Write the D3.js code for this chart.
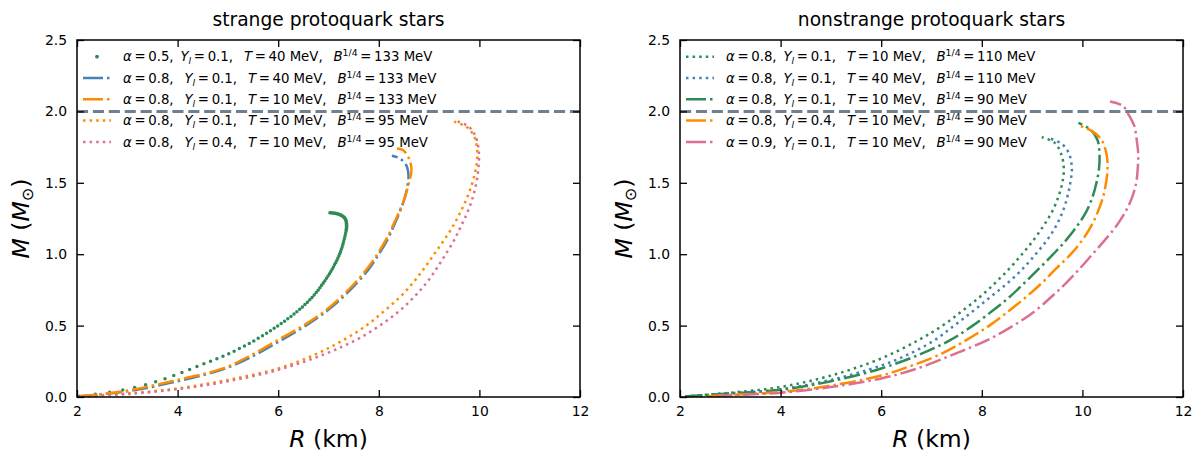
<!DOCTYPE html>
<html>
<head>
<meta charset="utf-8">
<title>protoquark stars</title>
<style>
    body { margin: 0; background: #fff; }
    text { font-family: "DejaVu Sans", sans-serif; fill: #000; }
    .frame { fill: none; stroke: #000; stroke-width: 1.5px; }
    .axis path { display: none; }
    .axis line { stroke: #000; stroke-width: 1.3px; }
    .axis text { font-size: 13.9px; }
    .curve { fill: none; }
</style>
</head>
<body>
<script src="https://cdn.jsdelivr.net/npm/d3@7"></script>
<script>

// ---- data (R in km, M in solar masses) ----
var xTicks = [2, 4, 6, 8, 10, 12];
var yTicks = [0.0, 0.5, 1.0, 1.5, 2.0, 2.5];
var panelTitles = ["strange protoquark stars", "nonstrange protoquark stars"];
var maxMassLine = 2.0;

// strange stars
var strangeR1 = [2.05, 2.5, 3.0, 3.5, 4.0, 4.5, 5.0, 5.55, 6.0, 6.38, 6.68, 6.9, 7.08, 7.22, 7.31, 7.36, 7.33, 7.2, 7.03];
var strangeM1 = [0.005, 0.025, 0.055, 0.10, 0.16, 0.23, 0.30, 0.40, 0.50, 0.60, 0.70, 0.80, 0.90, 1.00, 1.10, 1.20, 1.25, 1.28, 1.29];
var strangeR2 = [2.05, 3.0, 4.0, 4.95, 5.57, 6.07, 6.55, 6.96, 7.29, 7.57, 7.81, 8.0, 8.17, 8.3, 8.42, 8.52, 8.59, 8.55, 8.42, 8.26];
var strangeM2 = [0.005, 0.04, 0.11, 0.20, 0.30, 0.40, 0.50, 0.60, 0.70, 0.80, 0.90, 1.00, 1.10, 1.20, 1.30, 1.40, 1.54, 1.62, 1.67, 1.69];
var strangeR3 = [2.05, 3.0, 4.0, 4.9, 5.5, 6.0, 6.5, 6.92, 7.25, 7.53, 7.77, 7.97, 8.14, 8.28, 8.41, 8.52, 8.6, 8.65, 8.6, 8.48, 8.36];
var strangeM3 = [0.005, 0.045, 0.12, 0.20, 0.30, 0.40, 0.50, 0.60, 0.70, 0.80, 0.90, 1.00, 1.10, 1.20, 1.30, 1.40, 1.50, 1.59, 1.67, 1.73, 1.74];
var strangeR4 = [2.1, 3.0, 4.0, 5.0, 6.0, 6.75, 7.3, 7.75, 8.1, 8.42, 8.68, 8.9, 9.1, 9.3, 9.48, 9.63, 9.76, 9.86, 9.93, 9.96, 9.9, 9.75, 9.48];
var strangeM4 = [0.005, 0.025, 0.06, 0.12, 0.20, 0.30, 0.40, 0.50, 0.60, 0.70, 0.80, 0.90, 1.00, 1.10, 1.20, 1.30, 1.40, 1.50, 1.60, 1.71, 1.82, 1.89, 1.93];
var strangeR5 = [2.1, 3.0, 4.0, 5.0, 6.0, 6.92, 7.55, 8.02, 8.4, 8.7, 8.95, 9.15, 9.33, 9.5, 9.64, 9.77, 9.87, 9.94, 9.98, 9.99, 9.93, 9.8, 9.57];
var strangeM5 = [0.004, 0.02, 0.055, 0.11, 0.19, 0.30, 0.40, 0.50, 0.60, 0.70, 0.80, 0.90, 1.00, 1.10, 1.20, 1.30, 1.40, 1.50, 1.60, 1.71, 1.82, 1.89, 1.93];

// nonstrange stars
var nonstrangeR1 = [2.1, 3.0, 4.0, 5.0, 6.0, 6.75, 7.22, 7.6, 7.96, 8.27, 8.55, 8.8, 9.03, 9.23, 9.4, 9.52, 9.6, 9.63, 9.58, 9.45, 9.19];
var nonstrangeM1 = [0.005, 0.03, 0.07, 0.15, 0.27, 0.40, 0.50, 0.60, 0.70, 0.80, 0.90, 1.00, 1.10, 1.20, 1.30, 1.40, 1.50, 1.60, 1.70, 1.78, 1.82];
var nonstrangeR2 = [2.4, 3.0, 4.0, 5.0, 6.0, 6.55, 7.07, 7.45, 7.82, 8.17, 8.52, 8.82, 9.07, 9.3, 9.48, 9.61, 9.7, 9.76, 9.79, 9.74, 9.6, 9.36];
var nonstrangeM2 = [0.005, 0.025, 0.054, 0.12, 0.22, 0.30, 0.40, 0.50, 0.60, 0.70, 0.80, 0.90, 1.00, 1.10, 1.20, 1.30, 1.40, 1.50, 1.60, 1.70, 1.77, 1.81];
var nonstrangeR3 = [2.13, 3.0, 4.0, 5.0, 6.0, 6.78, 7.38, 7.82, 8.2, 8.55, 8.85, 9.14, 9.42, 9.68, 9.9, 10.08, 10.2, 10.28, 10.33, 10.34, 10.3, 10.17, 9.92];
var nonstrangeM3 = [0.005, 0.025, 0.05, 0.11, 0.20, 0.30, 0.40, 0.50, 0.60, 0.70, 0.80, 0.90, 1.00, 1.10, 1.20, 1.30, 1.40, 1.50, 1.60, 1.70, 1.80, 1.87, 1.92];
var nonstrangeR4 = [2.56, 3.0, 4.0, 5.0, 6.0, 6.45, 7.18, 7.7, 8.15, 8.53, 8.88, 9.2, 9.48, 9.77, 10.0, 10.18, 10.31, 10.41, 10.47, 10.5, 10.48, 10.38, 10.2, 9.95];
var nonstrangeM4 = [0.005, 0.015, 0.035, 0.08, 0.15, 0.20, 0.30, 0.40, 0.50, 0.60, 0.70, 0.80, 0.90, 1.00, 1.10, 1.20, 1.30, 1.40, 1.50, 1.60, 1.70, 1.80, 1.86, 1.90];
var nonstrangeR5 = [2.73, 3.0, 4.0, 5.0, 6.0, 6.72, 7.45, 8.12, 8.63, 9.05, 9.38, 9.68, 9.95, 10.2, 10.45, 10.68, 10.86, 10.99, 11.07, 11.1, 11.11, 11.08, 11.03, 10.93, 10.8, 10.55];
var nonstrangeM5 = [0.005, 0.012, 0.03, 0.07, 0.13, 0.20, 0.30, 0.40, 0.50, 0.60, 0.70, 0.80, 0.90, 1.00, 1.10, 1.20, 1.30, 1.40, 1.50, 1.60, 1.70, 1.80, 1.90, 1.97, 2.04, 2.07];

// legend parameters (alpha, Y_l, T in MeV, B^1/4 in MeV)
var strangeAlpha = ["0.5", "0.8", "0.8", "0.8", "0.8"];
var strangeYl    = ["0.1", "0.1", "0.1", "0.1", "0.4"];
var strangeT     = ["40", "40", "10", "10", "10"];
var strangeB     = ["133", "133", "133", "95", "95"];
var nonstrangeAlpha = ["0.8", "0.8", "0.8", "0.8", "0.9"];
var nonstrangeYl    = ["0.1", "0.1", "0.1", "0.4", "0.1"];
var nonstrangeT     = ["10", "40", "10", "10", "10"];
var nonstrangeB     = ["110", "110", "90", "90", "90"];

// ---- styles ----
var green = "#2e8b57", blue = "#4682b4", orange = "#ff8c00", pink = "#db7093", gray = "#708090";
var dashDot = "16,4,2.5,4", dotted = "2.5,4.1";

var panels = [
    {
        left: 77, title: panelTitles[0],
        series: [
            {R: strangeR1, M: strangeM1, color: green, style: "dots"},
            {R: strangeR2, M: strangeM2, color: blue, style: dashDot},
            {R: strangeR3, M: strangeM3, color: orange, style: dashDot},
            {R: strangeR4, M: strangeM4, color: orange, style: dotted},
            {R: strangeR5, M: strangeM5, color: pink, style: dotted}
        ],
        labels: [strangeAlpha, strangeYl, strangeT, strangeB],
        wide: [false, true, true, true, true]
    },
    {
        left: 680, title: panelTitles[1],
        series: [
            {R: nonstrangeR1, M: nonstrangeM1, color: green, style: dotted},
            {R: nonstrangeR2, M: nonstrangeM2, color: blue, style: dotted},
            {R: nonstrangeR3, M: nonstrangeM3, color: green, style: dashDot},
            {R: nonstrangeR4, M: nonstrangeM4, color: orange, style: dashDot},
            {R: nonstrangeR5, M: nonstrangeM5, color: pink, style: dashDot}
        ],
        labels: [nonstrangeAlpha, nonstrangeYl, nonstrangeT, nonstrangeB],
        wide: [false, false, false, false, false]
    }
];

var width = 1198, height = 453;
var axW = 503, axTop = 40, axBottom = 397;
var legendFont = 13.3;

var svg = d3.select("body").append("svg")
    .attr("width", width)
    .attr("height", height);

var y = d3.scaleLinear().domain([0, 2.5]).range([axBottom, axTop]);

// matplotlib-ish mathtext label: α = 0.8,  Y_l = 0.1,  T = 10 MeV,  B^{1/4} = 133 MeV
function mathLabel(t, a, yl, temp, b, wide) {
    var sep = wide ? ",\u2002 " : ",\u2009 ";
    var eq = "\u2009=\u2009";
    t.append("tspan").attr("font-style", "italic").text("α");
    t.append("tspan").text(eq + a + sep);
    t.append("tspan").attr("font-style", "italic").text("Y");
    t.append("tspan").attr("font-style", "italic").attr("font-size", legendFont * 0.7).attr("dy", 3).text("l");
    t.append("tspan").attr("dy", -3).text(eq + yl + ",\u2002 ");
    t.append("tspan").attr("font-style", "italic").text("T");
    t.append("tspan").text(eq + temp + " MeV,\u2002 ");
    t.append("tspan").attr("font-style", "italic").text("B");
    t.append("tspan").attr("font-size", legendFont * 0.7).attr("dy", -5).text("1/4");
    t.append("tspan").attr("dy", 5).text(eq + b + " MeV");
}

panels.forEach(function (p) {
    var x = d3.scaleLinear().domain([2, 12]).range([p.left, p.left + axW]);
    var g = svg.append("g");

    var line = d3.line()
        .x(function (d) { return x(d[0]); })
        .y(function (d) { return y(d[1]); })
        .curve(d3.curveCatmullRom.alpha(0.5));

    // M = 2 reference
    g.append("line")
        .attr("x1", x(2)).attr("x2", x(12))
        .attr("y1", y(maxMassLine)).attr("y2", y(maxMassLine))
        .style("stroke", gray)
        .style("stroke-width", 3)
        .style("stroke-dasharray", "11.1,4.8");

    // curves
    p.series.forEach(function (s) {
        var pts = s.R.map(function (r, i) { return [r, s.M[i]]; });
        var path = g.append("path")
            .attr("class", "curve")
            .attr("d", line(pts))
            .style("stroke", s.color);
        if (s.style == "dots") {
            // scatter of dots, sparse at low mass and merging further up
            var L = path.node().getTotalLength(), dash = [], pos = 0;
            while (pos < L) {
                var gap = 16 * Math.exp(-pos / 160);
                if (gap < 2) { dash.push(L, 0); break; }
                dash.push(0, gap);
                pos += gap;
            }
            path.style("stroke-width", 3.5)
                .style("stroke-linecap", "round")
                .style("stroke-dasharray", dash.join(","));
        } else {
            path.style("stroke-width", 2.5)
                .style("stroke-dasharray", s.style);
        }
    });

    // axes: ticks pointing inward on all four sides
    g.append("g").attr("class", "axis")
        .attr("transform", "translate(0," + axBottom + ")")
        .call(d3.axisBottom(x).tickValues(xTicks).tickSize(-7).tickPadding(9).tickFormat(d3.format("d")));
    g.append("g").attr("class", "axis")
        .attr("transform", "translate(0," + axTop + ")")
        .call(d3.axisTop(x).tickValues(xTicks).tickSize(-7).tickFormat(""));
    g.append("g").attr("class", "axis")
        .attr("transform", "translate(" + p.left + ",0)")
        .call(d3.axisLeft(y).tickValues(yTicks).tickSize(-7).tickPadding(10).tickFormat(d3.format(".1f")));
    g.append("g").attr("class", "axis")
        .attr("transform", "translate(" + (p.left + axW) + ",0)")
        .call(d3.axisRight(y).tickValues(yTicks).tickSize(-7).tickFormat(""));

    g.append("rect").attr("class", "frame")
        .attr("x", p.left).attr("y", axTop)
        .attr("width", axW).attr("height", axBottom - axTop);

    // title
    g.append("text")
        .attr("x", p.left + axW / 2).attr("y", 26)
        .attr("text-anchor", "middle")
        .style("font-size", "18.7px")
        .text(p.title);

    // axis labels
    var xl = g.append("text")
        .attr("x", p.left + axW / 2).attr("y", 447)
        .attr("text-anchor", "middle")
        .style("font-size", "23.5px");
    xl.append("tspan").attr("font-style", "italic").text("R");
    xl.append("tspan").text(" (km)");

    var yl = g.append("text")
        .attr("transform", "translate(" + (p.left - 48) + "," + ((axTop + axBottom) / 2) + ") rotate(-90)")
        .attr("text-anchor", "middle")
        .style("font-size", "23.5px");
    yl.append("tspan").attr("font-style", "italic").text("M");
    yl.append("tspan").text(" (");
    yl.append("tspan").attr("font-style", "italic").text("M");
    yl.append("tspan").attr("font-size", 16).attr("dy", 4).text("⊙");
    yl.append("tspan").attr("dy", -4).text(")");

    // legend, no frame
    var lg = g.append("g").attr("transform", "translate(" + (p.left + 6) + ",0)");
    p.series.forEach(function (s, i) {
        var cy = 56.7 + i * 21.3;
        if (s.style == "dots") {
            lg.append("circle").attr("cx", 14).attr("cy", cy).attr("r", 1.9).style("fill", s.color);
        } else {
            lg.append("line")
                .attr("x1", 0).attr("x2", 28).attr("y1", cy).attr("y2", cy)
                .style("stroke", s.color)
                .style("stroke-width", 2.5)
                .style("stroke-dasharray", s.style == dotted ? "2.5,4.1" : "20,4,2.5,4");
        }
        var t = lg.append("text")
            .attr("x", 40).attr("y", cy + 4.6)
            .style("font-size", legendFont + "px");
        mathLabel(t, p.labels[0][i], p.labels[1][i], p.labels[2][i], p.labels[3][i], p.wide[i]);
    });
});

</script>
</body>
</html>
